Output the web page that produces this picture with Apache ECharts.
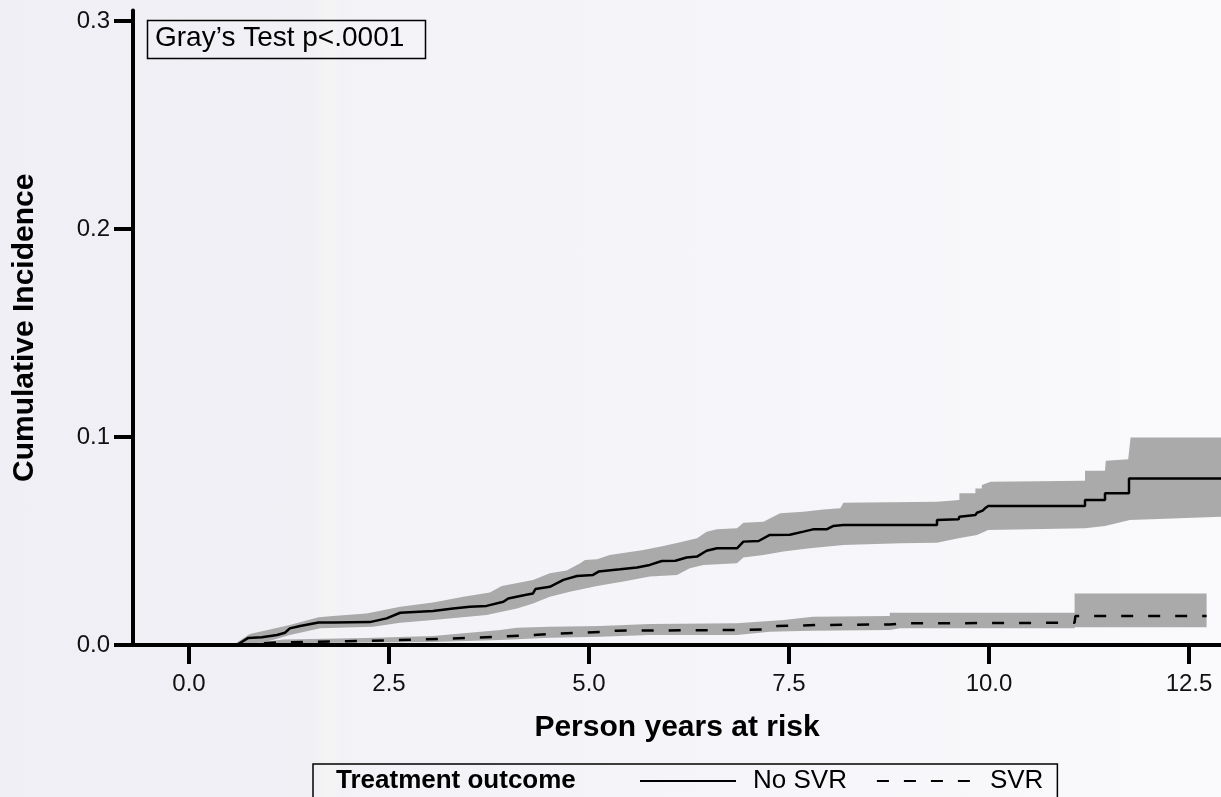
<!DOCTYPE html>
<html>
<head>
<meta charset="utf-8">
<script src="https://cdn.jsdelivr.net/npm/echarts@6/dist/echarts.min.js"></script>
<style>
  html, body { margin: 0; padding: 0; }
  #chart {
    width: 1221px;
    height: 797px;
    background: linear-gradient(to right, #efeff5 0%, #f0f0f5 25.5%, #f4f4f5 26.5%, #f4f4f5 27.4%, #f2f2f7 28.2%, #f6f6fa 65%, #fafafc 100%);
  }
</style>
</head>
<body>
<div id="chart"></div>
<script>
// [years, cumulative incidence]
const noSvr = [
  [0.60, 0], [0.62, 0.0008], [0.74, 0.0034], [0.91, 0.0037], [1.10, 0.0048], [1.20, 0.0059],
  [1.26, 0.008], [1.39, 0.0091], [1.62, 0.0108], [1.80, 0.0108], [2.26, 0.011], [2.47, 0.0128],
  [2.64, 0.0155], [3.05, 0.0163], [3.30, 0.0175], [3.51, 0.0184], [3.72, 0.0188], [3.93, 0.0208],
  [3.99, 0.0224], [4.20, 0.024], [4.30, 0.0248], [4.33, 0.0269], [4.51, 0.028], [4.68, 0.0313],
  [4.85, 0.0332], [5.05, 0.0337], [5.12, 0.0353], [5.39, 0.0364], [5.60, 0.0373], [5.76, 0.0385],
  [5.91, 0.0404], [6.08, 0.0405], [6.22, 0.0421], [6.35, 0.0425], [6.47, 0.0453], [6.60, 0.0465],
  [6.85, 0.0465], [6.93, 0.0497], [7.12, 0.05], [7.26, 0.0529], [7.51, 0.053], [7.68, 0.0545],
  [7.80, 0.0556], [7.97, 0.0556], [8.05, 0.0572], [8.18, 0.0577], [9.35, 0.0577], [9.35, 0.0601],
  [9.62, 0.0604], [9.63, 0.0617], [9.83, 0.0625], [9.85, 0.0636], [9.92, 0.0646], [9.95, 0.0657],
  [9.99, 0.0668], [11.20, 0.0668], [11.20, 0.0697], [11.45, 0.0697], [11.45, 0.0729],
  [11.75, 0.0729], [11.75, 0.0801], [12.9, 0.0801]
];
const noSvrUpper = [
  [0.55, 0], [0.76, 0.0053], [1.26, 0.0096], [1.62, 0.0133], [1.80, 0.0139], [2.22, 0.0152],
  [2.64, 0.0184], [3.05, 0.0204], [3.43, 0.0232], [3.76, 0.0252], [3.91, 0.0284], [4.30, 0.0313],
  [4.51, 0.0345], [4.72, 0.0358], [4.89, 0.0393], [4.95, 0.0409], [5.10, 0.0412], [5.26, 0.0433],
  [5.68, 0.0457], [5.93, 0.0476], [6.18, 0.0497], [6.35, 0.0513], [6.47, 0.0545], [6.60, 0.0556],
  [6.85, 0.0561], [6.93, 0.0588], [7.18, 0.0593], [7.39, 0.0633], [7.68, 0.0641], [7.93, 0.0652],
  [8.14, 0.0657], [8.18, 0.0684], [9.35, 0.0689], [9.63, 0.0697], [9.63, 0.0729], [9.83, 0.0729],
  [9.83, 0.0753], [9.91, 0.0753], [9.91, 0.0769], [10.02, 0.0785], [11.20, 0.079], [11.20, 0.0838],
  [11.45, 0.0838], [11.46, 0.0886], [11.74, 0.0893], [11.77, 0.0998], [12.9, 0.0998]
];
const noSvrLower = [
  [0.64, 0], [0.97, 0.0016], [1.26, 0.0048], [1.64, 0.008], [2.30, 0.0088], [2.64, 0.0107],
  [3.05, 0.012], [3.72, 0.0144], [4.10, 0.0176], [4.30, 0.02], [4.51, 0.0232], [4.76, 0.0256],
  [5.10, 0.0284], [5.43, 0.0305], [5.76, 0.0329], [6.10, 0.0337], [6.26, 0.0369], [6.43, 0.0385],
  [6.85, 0.0393], [6.93, 0.0421], [7.18, 0.0433], [7.43, 0.0449], [7.76, 0.0465], [8.18, 0.0481],
  [8.89, 0.0489], [9.35, 0.0492], [9.62, 0.0513], [9.85, 0.0529], [9.99, 0.0553], [11.20, 0.0561],
  [11.45, 0.0572], [11.76, 0.0601], [12.9, 0.0617]
];
const svr = [
  [0.60, 0], [1.14, 0.0013], [1.97, 0.0018], [2.64, 0.0024], [3.14, 0.0029], [3.89, 0.004],
  [4.30, 0.0048], [4.51, 0.0053], [5.14, 0.0063], [5.35, 0.0069], [6.85, 0.0072], [7.22, 0.0075],
  [7.35, 0.0091], [7.85, 0.0096], [8.76, 0.0099], [8.93, 0.0104], [11.07, 0.0107], [11.08, 0.0139],
  [12.72, 0.0139]
];
const svrUpper = [
  [0.60, 0], [1.18, 0.0027], [2.22, 0.0034], [3.05, 0.0043], [3.89, 0.0072], [4.10, 0.0083],
  [4.51, 0.0088], [5.14, 0.0091], [5.76, 0.0101], [6.85, 0.0104], [7.43, 0.012], [7.80, 0.0136],
  [8.76, 0.0139], [8.76, 0.0155], [11.07, 0.0155], [11.07, 0.0248], [12.72, 0.0248]
];
const svrLower = [
  [0.60, 0], [1.18, 0.0008], [3.05, 0.0014], [3.89, 0.0024], [4.51, 0.0035], [5.14, 0.004],
  [5.76, 0.0048], [6.85, 0.0048], [7.26, 0.0064], [7.76, 0.0069], [8.76, 0.0072], [8.89, 0.008],
  [11.07, 0.008], [11.07, 0.0085], [12.72, 0.0085]
];
const xTicks = [0, 2.5, 5, 7.5, 10, 12.5];
const yTicks = [0, 0.1, 0.2, 0.3];

const FONT = '"Liberation Sans", Arial, Helvetica, sans-serif';

// confidence band as a polygon: upper edge forward, lower edge back
function band(upper, lower) {
  return {
    type: 'custom',
    silent: true,
    z: 1,
    data: [[0, 0]],
    renderItem: (params, api) => {
      const pts = upper.map(p => api.coord(p))
        .concat(lower.slice().reverse().map(p => api.coord(p)));
      return { type: 'polygon', shape: { points: pts }, style: { fill: '#aaaaaa' } };
    }
  };
}

const chart = echarts.init(document.getElementById('chart'), null, { renderer: 'canvas' });
chart.setOption({
  backgroundColor: 'transparent',
  animation: false,
  textStyle: { fontFamily: FONT },
  grid: { left: 133, right: 0, top: 10.6, bottom: 152, containLabel: false },
  xAxis: {
    type: 'value',
    min: -0.7,
    max: 12.9,
    z: 5,
    name: 'Person years at risk',
    nameLocation: 'middle',
    nameGap: 68,
    nameTextStyle: { fontSize: 30, fontWeight: 'bold', color: '#000', fontFamily: FONT },
    axisLine: { onZero: false, lineStyle: { color: '#000', width: 4 } },
    axisTick: { show: true, length: 19, lineStyle: { color: '#000', width: 4 }, customValues: xTicks },
    axisLabel: {
      customValues: xTicks, margin: 27, fontSize: 24, color: '#111', fontFamily: FONT,
      formatter: v => v.toFixed(1)
    },
    splitLine: { show: false }
  },
  yAxis: {
    type: 'value',
    min: 0,
    max: 0.305,
    z: 5,
    name: 'Cumulative Incidence',
    nameLocation: 'middle',
    nameGap: 93,
    nameTextStyle: { fontSize: 30, fontWeight: 'bold', color: '#000', fontFamily: FONT },
    axisLine: { show: true, onZero: false, lineStyle: { color: '#000', width: 4 } },
    axisTick: { show: true, length: 19, lineStyle: { color: '#000', width: 4 }, customValues: yTicks },
    axisLabel: {
      customValues: yTicks, margin: 23, fontSize: 24, color: '#111', fontFamily: FONT,
      formatter: v => v.toFixed(1)
    },
    splitLine: { show: false }
  },
  legend: {
    data: ['No SVR', 'SVR'],
    left: 313,
    top: 764,
    padding: [4, 14, 60, 326],
    borderColor: '#000',
    borderWidth: 1.5,
    itemWidth: 96,
    itemHeight: 14,
    itemGap: 29,
    selectedMode: false,
    itemStyle: { opacity: 0 },
    textStyle: { fontSize: 26, color: '#000', fontFamily: FONT, padding: [0, 0, 0, 12] }
  },
  graphic: [
    {
      type: 'rect',
      left: 145, top: 18,
      shape: { width: 278, height: 38 },
      style: { fill: 'none', stroke: '#000', lineWidth: 1.5 }
    },
    {
      type: 'text',
      left: 155, top: 24,
      style: { text: 'Gray\u2019s Test p<.0001', fontSize: 28, fontFamily: FONT, fill: '#000' }
    },
    {
      type: 'text',
      left: 336, top: 768,
      style: { text: 'Treatment outcome', fontSize: 26, fontWeight: 'bold', fontFamily: FONT, fill: '#000' }
    }
  ],
  series: [
    band(noSvrUpper, noSvrLower),
    band(svrUpper, svrLower),
    {
      name: 'No SVR',
      type: 'line',
      data: noSvr,
      symbol: 'none',
      z: 3,
      itemStyle: { color: '#000' },
      lineStyle: { color: '#000', width: 2.5 }
    },
    {
      name: 'SVR',
      type: 'line',
      data: svr,
      symbol: 'none',
      z: 3,
      itemStyle: { color: '#000' },
      lineStyle: { color: '#000', width: 2.5, type: [12, 15] }
    }
  ]
});
</script>
</body>
</html>
